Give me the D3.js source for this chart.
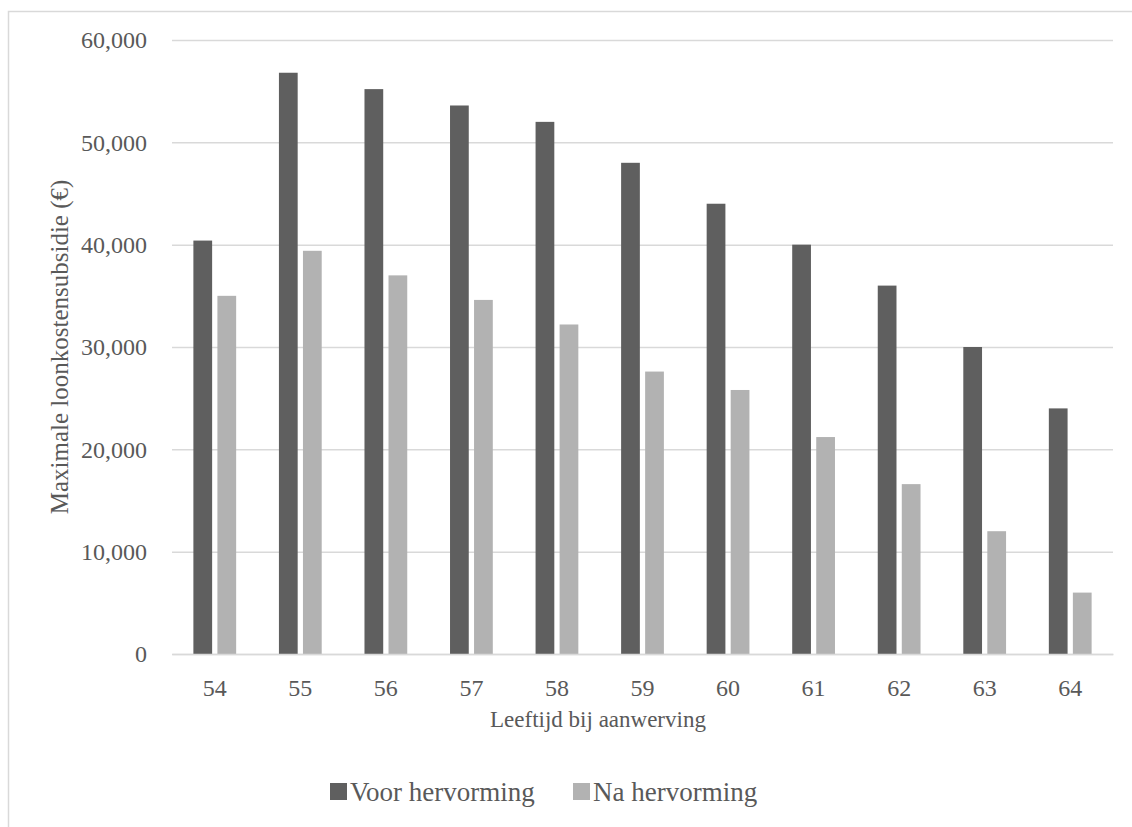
<!DOCTYPE html>
<html>
<head>
<meta charset="utf-8">
<script src="https://cdn.jsdelivr.net/npm/d3@7/dist/d3.min.js"></script>
<style>
  html, body { margin: 0; padding: 0; background: #ffffff; }
  svg { display: block; }
  text { font-family: "Liberation Serif", "DejaVu Serif", serif; fill: #595959; }
</style>
</head>
<body>
<svg id="chart" width="1132" height="827"></svg>
<script>
// Age at hiring (categories)
const ages = ["54", "55", "56", "57", "58", "59", "60", "61", "62", "63", "64"];
// Maximum wage-cost subsidy in euro, before and after the reform
const voorHervorming = [40400, 56800, 55200, 53600, 52000, 48000, 44000, 40000, 36000, 30000, 24000];
const naHervorming   = [35000, 39400, 37000, 34600, 32200, 27600, 25800, 21200, 16600, 12000, 6000];
const seriesNames = ["Voor hervorming", "Na hervorming"];
const seriesColors = ["#5f5f5f", "#b2b2b2"];
const yTicks = [0, 10000, 20000, 30000, 40000, 50000, 60000];

const svg = d3.select("#chart");
const W = 1132, H = 827;
const plot = { left: 172, right: 1113, top: 40, bottom: 654 };

// chart frame
svg.append("rect")
  .attr("x", 8.5).attr("y", 11.5)
  .attr("width", W + 20).attr("height", H + 20)
  .attr("fill", "none").attr("stroke", "#d9d9d9").attr("stroke-width", 1.5);

const x = d3.scaleBand().domain(ages).range([plot.left, plot.right]).paddingInner(0).paddingOuter(0);
const y = d3.scaleLinear().domain([0, 60000]).range([plot.bottom, plot.top]);
const groupWidth = x.step() / 2;
const xs = d3.scaleBand().domain(seriesNames).range([0, groupWidth]).paddingInner(0.22).paddingOuter(0);

// gridlines and value labels
const yAxis = d3.axisLeft(y).tickValues(yTicks).tickSize(-(plot.right - plot.left))
  .tickPadding(25).tickFormat(d3.format(","));
const gy = svg.append("g").attr("transform", `translate(${plot.left},0)`).call(yAxis);
gy.select(".domain").remove();
gy.selectAll(".tick line").attr("stroke", "#d9d9d9").attr("stroke-width", 1.5);
gy.selectAll(".tick text").attr("font-size", 24).attr("fill", "#595959")
  .style("font-family", "'Liberation Serif', serif");

// bars
const data = ages.map((a, i) => ({ age: a, values: [voorHervorming[i], naHervorming[i]] }));
const groups = svg.append("g").selectAll("g").data(data).join("g")
  .attr("transform", d => `translate(${x(d.age) + x.bandwidth() / 2 - groupWidth / 2},0)`);
groups.selectAll("rect")
  .data(d => d.values.map((v, k) => ({ name: seriesNames[k], value: v, k })))
  .join("rect")
  .attr("x", d => xs(d.name))
  .attr("width", xs.bandwidth())
  .attr("y", d => y(d.value))
  .attr("height", d => y(0) - y(d.value))
  .attr("fill", d => seriesColors[d.k]);

// x axis
const xAxis = d3.axisBottom(x).tickSize(0).tickPadding(25);
const gx = svg.append("g").attr("transform", `translate(0,${plot.bottom})`).call(xAxis);
gx.select(".domain").attr("stroke", "#d9d9d9").attr("stroke-width", 1.5);
gx.selectAll(".tick text").attr("font-size", 24).attr("fill", "#595959")
  .style("font-family", "'Liberation Serif', serif");

// axis titles
svg.append("text")
  .attr("transform", `translate(59,${(plot.top + plot.bottom) / 2}) rotate(-90)`)
  .attr("text-anchor", "middle").attr("dominant-baseline", "central")
  .attr("font-size", 25)
  .text("Maximale loonkostensubsidie (€)");

svg.append("text")
  .attr("x", 598).attr("y", 727)
  .attr("text-anchor", "middle")
  .attr("font-size", 23)
  .text("Leeftijd bij aanwerving");

// legend
const legendItems = [
  { name: seriesNames[0], color: seriesColors[0], sx: 330, tx: 350 },
  { name: seriesNames[1], color: seriesColors[1], sx: 573, tx: 593 }
];
const lg = svg.append("g");
legendItems.forEach(it => {
  lg.append("rect").attr("x", it.sx).attr("y", 783).attr("width", 17).attr("height", 17).attr("fill", it.color);
  lg.append("text").attr("x", it.tx).attr("y", 801).attr("font-size", 27).text(it.name);
});
</script>
</body>
</html>
